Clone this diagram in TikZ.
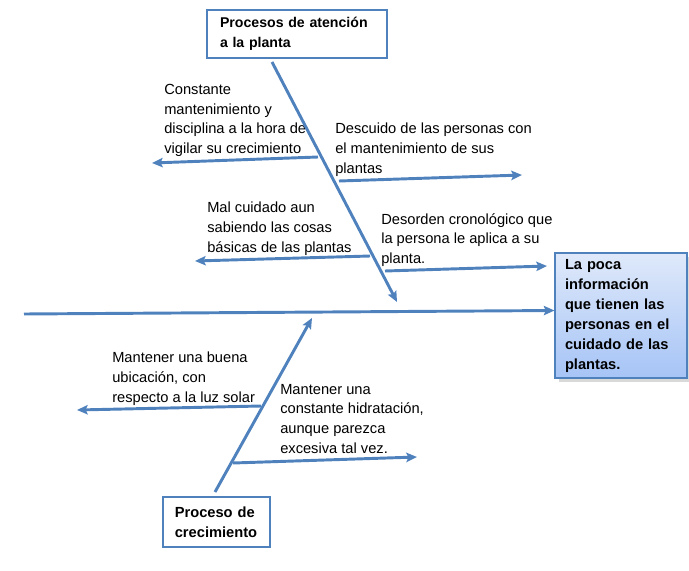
\documentclass[tikz,border=0pt]{standalone}
\usepackage{fontspec}
\setmainfont{Liberation Sans}
\usetikzlibrary{shapes,arrows.meta,positioning,shadows}
\definecolor{azul}{HTML}{4F81BD}
\definecolor{azulclaro}{HTML}{DFE9FA}
\definecolor{azulmedio}{HTML}{A6C4F6}

\begin{document}
\begin{tikzpicture}[x=0.75pt,y=-0.75pt]
 \tikzset{caja node/.style={rectangle, draw=azul, line width=2.2pt, fill=white,
 		align=left, inner sep=0pt, font=\fontsize{11}{15}\selectfont\bfseries}, }
 \tikzset{efecto node/.style={rectangle, draw=azul, line width=0.8pt,
 		top color=azulclaro, bottom color=azulmedio, drop shadow={opacity=0.3},
 		align=left, inner sep=0pt, font=\fontsize{11}{15}\selectfont\bfseries}, }
 \tikzset{causa node/.style={anchor=north west, align=left, inner sep=0pt,
 		font=\fontsize{11}{14.7}\selectfont}, }
 \tikzset{linea/.style={draw=azul, line width=2.2pt,
 		-{Stealth[length=8pt,width=7pt,inset=1.5pt]}},}
 \useasboundingbox (0,0) rectangle (689,571);
 %% cajas
 \node[caja node, text width=115.5pt, minimum width=135pt, minimum height=36pt,
 	font=\fontsize{10.6}{15}\selectfont\bfseries]
 	(arriba) at (297,34) {Procesos de atención\\a la planta};
 \node[caja node, text width=62.5pt, minimum width=80.25pt, minimum height=37.5pt]
 	(abajo) at (216.5,522) {Proceso de\\crecimiento};
 \node[efecto node, text width=84pt, minimum width=99pt, minimum height=93.75pt]
 	(efecto) at (621,315.5) {La poca\\información\\que tienen las\\personas en el\\cuidado de las\\plantas.};
 %% causas
 \node[causa node] (c1) at (164,84) {Constante\\mantenimiento y\\disciplina a la hora de\\vigilar su crecimiento};
 \node[causa node] (c2) at (335,123) {Descuido de las personas con\\el mantenimiento de sus\\plantas};
 \node[causa node] (c3) at (207,202) {Mal cuidado aun\\sabiendo las cosas\\básicas de las plantas};
 \node[causa node] (c4) at (381,213) {Desorden cronológico que\\la persona le aplica a su\\planta.};
 \node[causa node] (c5) at (112,352) {Mantener una buena\\ubicación, con\\respecto a la luz solar};
 \node[causa node] (c6) at (280,384) {Mantener una\\constante hidratación,\\aunque parezca\\excesiva tal vez.};
 %% espinas
 \coordinate (cola) at (24,314);
 \coordinate (a0) at (272,62);
 \coordinate (a1) at (397,302);
 \coordinate (b0) at (215,492);
 \coordinate (b1) at (312,318);
 \coordinate (r1s) at (318,157); \coordinate (r1e) at (152,163);
 \coordinate (r2s) at (339,181); \coordinate (r2e) at (522,175);
 \coordinate (r3s) at (370,256); \coordinate (r3e) at (195,261);
 \coordinate (r4s) at (385,271); \coordinate (r4e) at (547,266);
 \coordinate (r5s) at (261,406); \coordinate (r5e) at (77,410);
 \coordinate (r6s) at (233,463); \coordinate (r6e) at (417,457);
 \draw[linea] (cola) -- ([yshift=3.75pt]efecto.west);
 \foreach \x /\y in{a0/a1,b0/b1,r1s/r1e,r2s/r2e,r3s/r3e,r4s/r4e,r5s/r5e,r6s/r6e}
 \draw[linea] (\x) -- (\y);
 %%
\end{tikzpicture}
\end{document}
